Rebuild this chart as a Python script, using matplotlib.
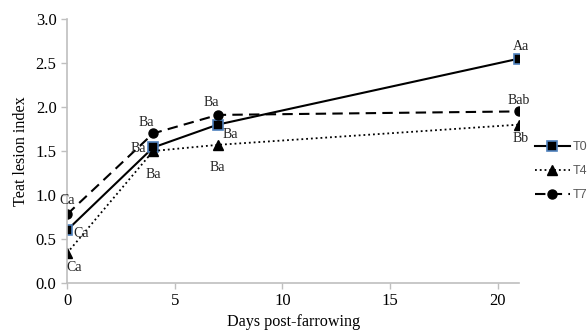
import matplotlib
matplotlib.use('Agg')
import matplotlib.pyplot as plt

# data
days = [0, 4, 7, 21]
t0 = [0.60, 1.54, 1.80, 2.55]
t4 = [0.34, 1.50, 1.57, 1.80]
t7 = [0.78, 1.70, 1.91, 1.95]
series_names = ['T0', 'T4', 'T7']
t0_letters = ['Ca', 'Ba', 'Ba', 'Aa']
t4_letters = ['Ca', 'Ba', 'Ba', 'Bb']
t7_letters = ['Ca', 'Ba', 'Ba', 'Bab']

plt.rcParams['font.family'] = ['Liberation Serif', 'DejaVu Serif']

fig = plt.figure(figsize=(5.88, 3.33), dpi=100)
ax = fig.add_axes([0.114, 0.150, 0.769, 0.793])

ax.plot(days, t0, color='black', lw=1.5, ls='-', marker='s', ms=6.5,
        mfc='black', mec='#4f81bd', mew=1.2, label=series_names[0])
ax.plot(days, t4, color='black', lw=1.3, ls=':', marker='^', ms=6.5,
        mfc='black', mec='black', label=series_names[1])
ax.plot(days, t7, color='black', lw=1.5, ls=(0, (5, 3)), marker='o', ms=6.5,
        mfc='black', mec='black', label=series_names[2])

# letter offsets (points) for each label
t0_off = [(10, -2), (-11, -1), (9, -7), (1, 9)]
t4_off = [(5, -10), (0, -17), (0, -16), (1, -10)]
t7_off = [(0, 10), (-5, 8), (-5, 9), (0, 8)]
for vals, letters, offs in [(t0, t0_letters, t0_off), (t4, t4_letters, t4_off), (t7, t7_letters, t7_off)]:
    for x, y, s, o in zip(days, vals, letters, offs):
        ax.annotate(s, (x, y), xytext=o, textcoords='offset points',
                    ha='center', va='center', fontsize=10, color='#222222')

ax.set_xlim(0, 21)
ax.set_ylim(0, 3.0)
ax.set_xticks([0, 5, 10, 15, 20])
ax.set_yticks([0, 0.5, 1.0, 1.5, 2.0, 2.5, 3.0])
ax.set_yticklabels(['0.0', '0.5', '1.0', '1.5', '2.0', '2.5', '3.0'])
for side in ['top', 'right']:
    ax.spines[side].set_visible(False)
for side in ['left', 'bottom']:
    ax.spines[side].set_color('#bfbfbf')
    ax.spines[side].set_linewidth(1.2)
ax.tick_params(colors='#bfbfbf', labelcolor='black', labelsize=12, length=4, width=1)
ax.set_xlabel('Days post-farrowing', fontsize=11.6, labelpad=3)
ax.set_ylabel('Teat lesion index', fontsize=11.6, labelpad=5)

leg = ax.legend(loc='upper left', bbox_to_anchor=(1.01, 0.58), frameon=False,
                handlelength=2.8, handletextpad=0.2, labelspacing=0.95,
                prop={'family': 'Liberation Sans', 'size': 9})
for t in leg.get_texts():
    t.set_color('#595959')

fig.savefig('out.png', dpi=100)
